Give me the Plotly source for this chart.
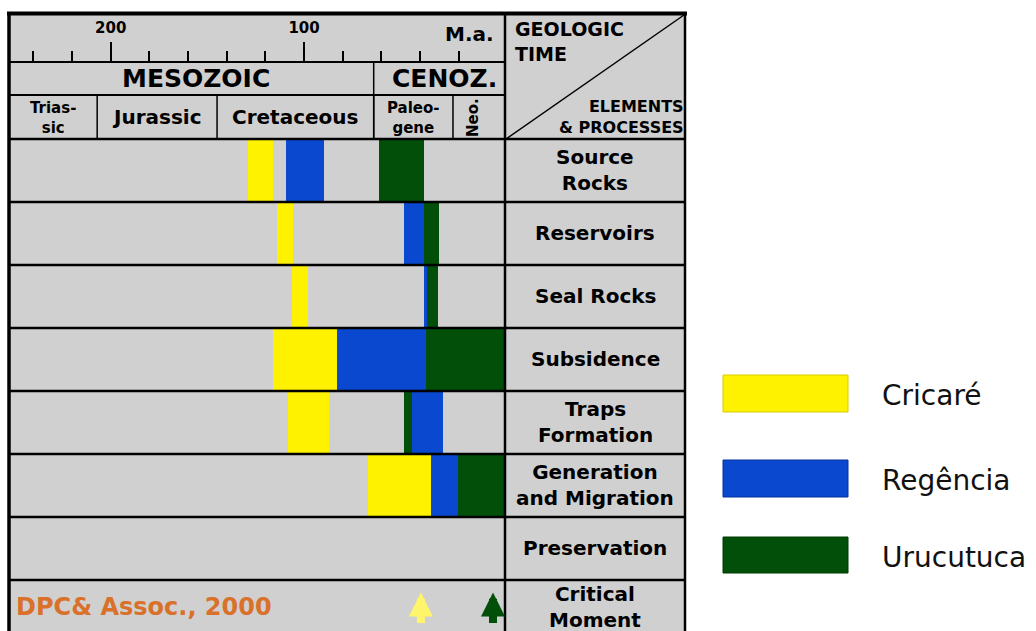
import plotly.graph_objects as go

W, H = 1036, 631


def px(x):
    return x / W


def py(y):
    return 1 - y / H


# ---- data -------------------------------------------------------------
elements = ["Source<br>Rocks", "Reservoirs", "Seal Rocks", "Subsidence",
            "Traps<br>Formation", "Generation<br>and Migration",
            "Preservation", "Critical<br>Moment"]

# age intervals in Ma (older edge, younger edge) for each element row
cricare_old = [129, 114, 106.5, 116, 108.5, 67, None, None]
cricare_young = [116, 105.5, 98, 83, 87, 34.5, None, None]
regencia_old = [109.5, 48.5, 38, 83, 44, 34.5, None, None]
regencia_young = [89.5, 38, 36.5, 37, 28, 20.5, None, None]
urucutuca_old = [61.5, 38, 36.5, 37, 48.5, 20.5, None, None]
urucutuca_young = [38, 30, 31, -4, 44, -4, None, None]

# critical moments (Ma)
critical_cricare = 39.6
critical_urucutuca = 2.3

age_start, age_end = 252.6, -3.9
major_ticks = [200, 100]
minor_ticks = [240, 220, 180, 160, 140, 120, 80, 60, 40, 20]

era_names = ["MESOZOIC", "CENOZ."]
era_bounds = [age_start, 64, age_end]
period_names = ["Trias-<br>sic", "Jurassic", "Cretaceous", "Paleo-<br>gene", "Neo."]
period_bounds = [age_start, 207, 145, 64, 23, age_end]

legend_names = ["Cricaré", "Regência", "Urucutuca"]
colors = ["#FFF200", "#0A48CF", "#014F08"]

# ---- figure -------------------------------------------------------------
GRAY = "#D0D0D0"
BOLD = "DejaVu Sans"
fig = go.Figure()

series = [(cricare_old, cricare_young), (regencia_old, regencia_young),
          (urucutuca_old, urucutuca_young)]
for name, color, (old, young) in zip(legend_names, colors, series):
    ys, bases, lens = [], [], []
    for i, (o, y) in enumerate(zip(old, young)):
        if o is None:
            continue
        ys.append(i)
        bases.append(y)
        lens.append(o - y)
    fig.add_trace(go.Bar(
        y=ys, x=lens, base=bases, orientation="h", width=1.0,
        marker=dict(color=color, line=dict(width=0)),
        name=name, showlegend=False, hoverinfo="skip",
    ))

# frame lines and backgrounds
shapes = []
shapes.append(dict(type="rect", xref="paper", yref="paper",
                   x0=px(9), x1=px(685), y0=0, y1=py(13),
                   fillcolor=GRAY, line=dict(width=0), layer="below"))


def hline(y, x0, x1, w=2):
    shapes.append(dict(type="line", xref="paper", yref="paper",
                       x0=px(x0), x1=px(x1), y0=py(y), y1=py(y),
                       line=dict(color="black", width=w)))


def vline(x, y0, y1, w=2):
    shapes.append(dict(type="line", xref="paper", yref="paper",
                       x0=px(x), x1=px(x), y0=py(y0), y1=py(y1),
                       line=dict(color="black", width=w)))


hline(95, 9, 505, 2)
hline(139, 9, 685, 2.5)
vline(9, 12, 631, 3.5)
vline(505, 12, 631, 2.5)
vline(685, 12, 631, 2.5)
hline(13.5, 7, 687, 4)

# row separators
for i in range(len(elements) - 1):
    shapes.append(dict(type="line", xref="paper", yref="y",
                       x0=px(9), x1=px(685), y0=i + 0.5, y1=i + 0.5,
                       line=dict(color="black", width=2.5)))

# era / period boundaries
for b in era_bounds[1:-1]:
    shapes.append(dict(type="line", xref="x", yref="paper", x0=b, x1=b,
                       y0=py(62), y1=py(139), line=dict(color="black", width=1.5)))
for b in period_bounds[1:-1]:
    shapes.append(dict(type="line", xref="x", yref="paper", x0=b, x1=b,
                       y0=py(95), y1=py(139), line=dict(color="black", width=1.5)))

# header diagonal
shapes.append(dict(type="line", xref="paper", yref="paper",
                   x0=px(506), y0=py(139), x1=px(684), y1=py(15),
                   line=dict(color="black", width=1.5)))

# legend swatches
leg_y = [(375, 412), (460, 497), (537, 573)]
edge = ["#D8CB00", "#06309A", "#013A05"]
for (y0, y1), c, e in zip(leg_y, colors, edge):
    shapes.append(dict(type="rect", xref="paper", yref="paper",
                       x0=px(723), x1=px(848), y0=py(y1), y1=py(y0),
                       fillcolor=c, line=dict(color=e, width=1)))

annotations = []


def text(t, x, y, size, xref="paper", yref="paper", xanchor="center",
         color="black", bold=True, angle=0, family=BOLD, xshift=0, yshift=0):
    annotations.append(dict(
        text=t, x=x, y=y, xref=xref, yref=yref, xanchor=xanchor, yanchor="middle",
        showarrow=False, textangle=angle, xshift=xshift, yshift=yshift,
        font=dict(family=family, size=size, color=color,
                  weight="bold" if bold else "normal")))


text("M.a.", px(496), py(34), 20, xanchor="right")

for i, name in enumerate(era_names):
    mid = (era_bounds[i] + era_bounds[i + 1]) / 2
    text(name, mid, py(78), 25, xref="x", xshift=5)

for i, name in enumerate(period_names):
    mid = (period_bounds[i] + period_bounds[i + 1]) / 2
    if "<br>" in name:
        text(name, mid, py(118), 15, xref="x")
    elif name == "Neo.":
        text(name, mid, py(117), 15, xref="x", angle=-90, xshift=-6)
    else:
        text(name, mid, py(117), 20, xref="x")

text("GEOLOGIC<br>TIME", px(513), py(41), 19, xanchor="left")
annotations[-1]["align"] = "left"
text("ELEMENTS<br>& PROCESSES", px(686), py(117), 16, xanchor="right")
annotations[-1]["align"] = "right"

for i, name in enumerate(elements):
    text(name, px(595), i, 20, yref="y", yshift=(4 if i == 7 else 0))

text("DPC& Assoc., 2000", px(14), py(607), 24, xanchor="left", color="#D9712B")

for name, (y0, y1) in zip(legend_names, leg_y):
    text(name, px(880), py((y0 + y1) / 2 + 2), 28, xanchor="left",
         bold=False, color="#111111")

# critical moment arrows
for age, c in [(critical_cricare, "#FFF56A"), (critical_urucutuca, colors[2])]:
    annotations.append(dict(
        x=age, y=6.7, xref="x", yref="y", text="", showarrow=True,
        ax=0, ay=32, axref="pixel", ayref="pixel",
        arrowhead=2, arrowsize=0.6, arrowwidth=8, arrowcolor=c, standoff=0))

fig.update_layout(
    width=W, height=H,
    margin=dict(l=0, r=0, t=0, b=0),
    paper_bgcolor="white", plot_bgcolor=GRAY,
    barmode="overlay", bargap=0,
    showlegend=False,
    xaxis=dict(
        domain=[px(9), px(505)], range=[age_start, age_end],
        anchor="free", position=py(62), side="top",
        tickmode="array", tickvals=major_ticks, ticktext=[str(v) for v in major_ticks],
        ticks="outside", ticklen=19, tickwidth=2, tickcolor="black",
        minor=dict(tickmode="array", tickvals=minor_ticks, ticks="outside",
                   ticklen=10, tickwidth=2, tickcolor="black", showgrid=False),
        showline=True, linecolor="black", linewidth=2,
        showgrid=False, zeroline=False, fixedrange=True,
        tickfont=dict(family=BOLD, size=15, color="black", weight="bold"),
        ticklabelstandoff=3,
    ),
    yaxis=dict(
        domain=[0, py(139)], range=[7.311, -0.5],
        showticklabels=False, showgrid=False, zeroline=False, showline=False,
        ticks="", fixedrange=True,
    ),
    shapes=shapes,
    annotations=annotations,
)

fig.write_html("out.html")
